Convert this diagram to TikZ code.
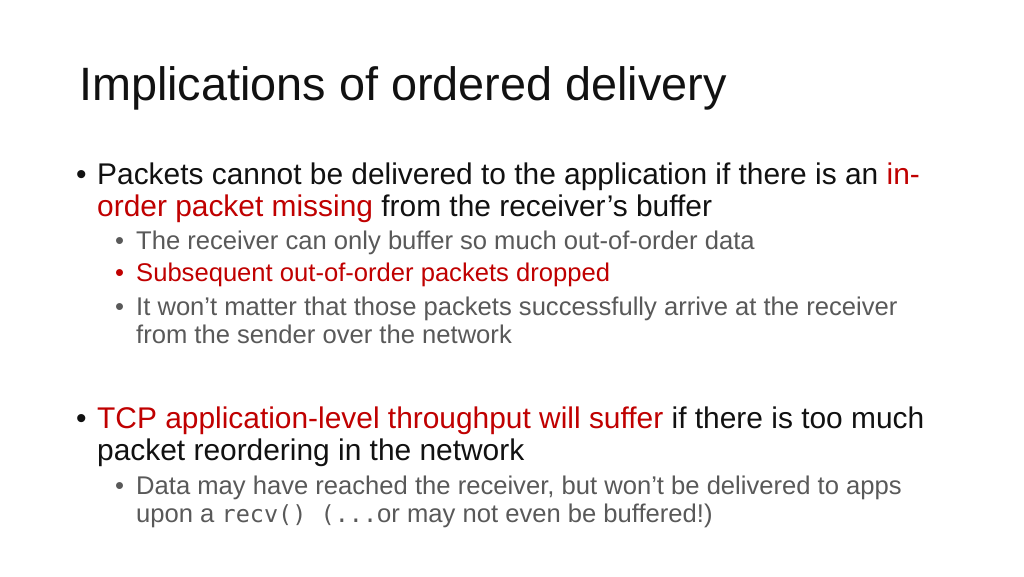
\documentclass[tikz,border=0pt]{standalone}
\usepackage{fontspec}
\setmainfont{Liberation Sans}
\setmonofont{DejaVu Sans Mono}
\definecolor{SlideRed}{HTML}{C00000}
\definecolor{SlideText}{HTML}{111111}
\definecolor{SlideGrey}{HTML}{595959}
\tikzset{
  title/.style={anchor=base west,inner sep=0pt,text=SlideText,font=\fontsize{46.8}{52}\selectfont},
  body/.style={anchor=base west,inner sep=0pt,text=SlideText,font=\fontsize{29.9}{34}\selectfont},
  sub/.style={anchor=base west,inner sep=0pt,text=SlideGrey,font=\fontsize{25.6}{29}\selectfont}
}
\begin{document}
\begin{tikzpicture}[x=1pt,y=-1pt]
  \useasboundingbox[fill=white] (0,0) rectangle (1024,576);

  % title
  \node[title] (head) at (79,100) {Implications of ordered delivery};

  % first bullet
  \node[body] (b1dot) at (76,184) {•};
  \node[body] (b1a) at (97,184) {Packets cannot be delivered to the application if there is an \textcolor{SlideRed}{in-}};
  \node[body] (b1b) at (97,216) {\textcolor{SlideRed}{order packet missing} from the receiver’s buffer};
  \node[sub] (s1dot) at (115,249) {•};
  \node[sub] (s1) at (136,249) {The receiver can only buffer so much out-of-order data};
  \node[sub,text=SlideRed] (s2dot) at (115,281) {•};
  \node[sub,text=SlideRed] (s2) at (136,281) {Subsequent out-of-order packets dropped};
  \node[sub] (s3dot) at (115,315) {•};
  \node[sub] (s3a) at (136,315) {It won’t matter that those packets successfully arrive at the receiver};
  \node[sub] (s3b) at (136,343) {from the sender over the network};

  % second bullet
  \node[body] (b2dot) at (76,428) {•};
  \node[body] (b2a) at (97,428) {\textcolor{SlideRed}{TCP application-level throughput will suffer} if there is too much};
  \node[body] (b2b) at (97,460) {packet reordering in the network};
  \node[sub] (s4dot) at (115,494) {•};
  \node[sub] (s4a) at (136,494) {Data may have reached the receiver, but won’t be delivered to apps};
  \node[sub] (s4b) at (136,522) {upon a {\fontsize{23.5}{27}\selectfont\texttt{recv() (...}}or may not even be buffered!)};
\end{tikzpicture}
\end{document}
